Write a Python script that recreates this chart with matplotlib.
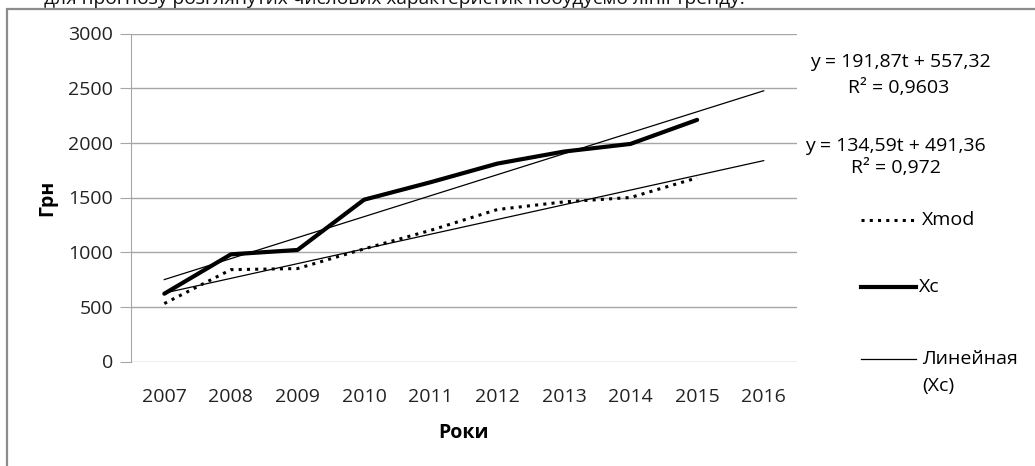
import numpy as np
import matplotlib
matplotlib.use("Agg")
import matplotlib.pyplot as plt
from matplotlib.lines import Line2D
from matplotlib.patches import Rectangle

plt.rcParams['font.family'] = ['Open Sans', 'DejaVu Sans']

years = ['2007', '2008', '2009', '2010', '2011', '2012', '2013', '2014', '2015', '2016']
xmod = [530, 840, 850, 1030, 1200, 1390, 1460, 1500, 1680]
xc = [620, 980, 1020, 1480, 1640, 1810, 1920, 1990, 2210]

# linear trend coefficients (y = a*t + b, t = 1..10)
trend_xc = (191.87, 557.32)
trend_xmod = (134.59, 491.36)
r2_xc = '0,9603'
r2_xmod = '0,972'

FS = 14
W, H = 1035, 466
fig = plt.figure(figsize=(W / 100, H / 100), dpi=100)

# outer chart frame
fig.add_artist(Rectangle((7 / W, -0.05), 1.2, 1 - 9 / H + 0.05, transform=fig.transFigure,
                         fill=False, edgecolor='#8c8c8c', linewidth=1.6))

# heading line of the surrounding document, cut off at the top
fig.text(44 / W, 1 - 4 / H, 'для прогнозу розглянутих числових характеристик побудуємо лінії тренду.',
         fontsize=13.8, ha='left', va='baseline', color='#111111')

ax = fig.add_axes([131 / W, 1 - 361.5 / H, (797 - 131) / W, 328 / H])
t_all = np.arange(1, len(years) + 1)
pos = np.arange(len(years))

ax.plot(pos[:len(xmod)], xmod, color='black', lw=2.2, linestyle=(0, (1, 1.7)),
        dash_capstyle='butt', zorder=3)
ax.plot(pos[:len(xc)], xc, color='black', lw=3.0, solid_capstyle='round',
        solid_joinstyle='round', zorder=3)
ax.plot(pos, trend_xc[0] * t_all + trend_xc[1], color='black', lw=0.9, zorder=2)
ax.plot(pos, trend_xmod[0] * t_all + trend_xmod[1], color='black', lw=0.9, zorder=2)

ax.set_xlim(-0.5, len(years) - 0.5)
ax.set_ylim(0, 3000)
ax.set_yticks(np.arange(0, 3001, 500))
ax.set_xticks(pos)
ax.set_xticklabels(years)
ax.grid(axis='y', color='#a6a6a6', lw=1.0)
ax.set_axisbelow(True)
for s in ['top', 'right', 'bottom']:
    ax.spines[s].set_visible(False)
ax.spines['left'].set_color('#a6a6a6')
ax.tick_params(axis='y', length=8, color='#a6a6a6', labelsize=FS, pad=5, labelcolor='#222222')
ax.tick_params(axis='x', length=0, labelsize=FS, pad=19, labelcolor='#222222')
ax.set_xlabel('Роки', fontsize=FS, fontweight='bold', labelpad=12)
ax.set_ylabel('Грн', fontsize=FS, fontweight='bold', labelpad=8)

# trend equations
fig.text(900 / W, 1 - 62 / H, 'y = 191,87t + 557,32', fontsize=FS, ha='center', va='center')
fig.text(899 / W, 1 - 88 / H, 'R² = ' + r2_xc, fontsize=FS, ha='center', va='center')
fig.text(895 / W, 1 - 146 / H, 'y = 134,59t + 491,36', fontsize=FS, ha='center', va='center')
fig.text(896 / W, 1 - 168 / H, 'R² = ' + r2_xmod, fontsize=FS, ha='center', va='center')

# legend
def key(y, **kw):
    fig.add_artist(Line2D([861 / W, 916 / W], [1 - y / H, 1 - y / H], transform=fig.transFigure,
                          color='black', **kw))

key(220, lw=2.2, linestyle=(0, (1, 1.7)), dash_capstyle='butt')
fig.text(922 / W, 1 - 220 / H, 'Xmod', fontsize=FS, va='center')
key(287, lw=3.0)
fig.text(919 / W, 1 - 287 / H, 'Xc', fontsize=FS, va='center')
key(359, lw=0.9)
fig.text(922 / W, 1 - 359 / H, 'Линейная', fontsize=FS, va='center')
fig.text(922 / W, 1 - 386 / H, '(Xc)', fontsize=FS, va='center')

fig.savefig('out.png', dpi=100)
